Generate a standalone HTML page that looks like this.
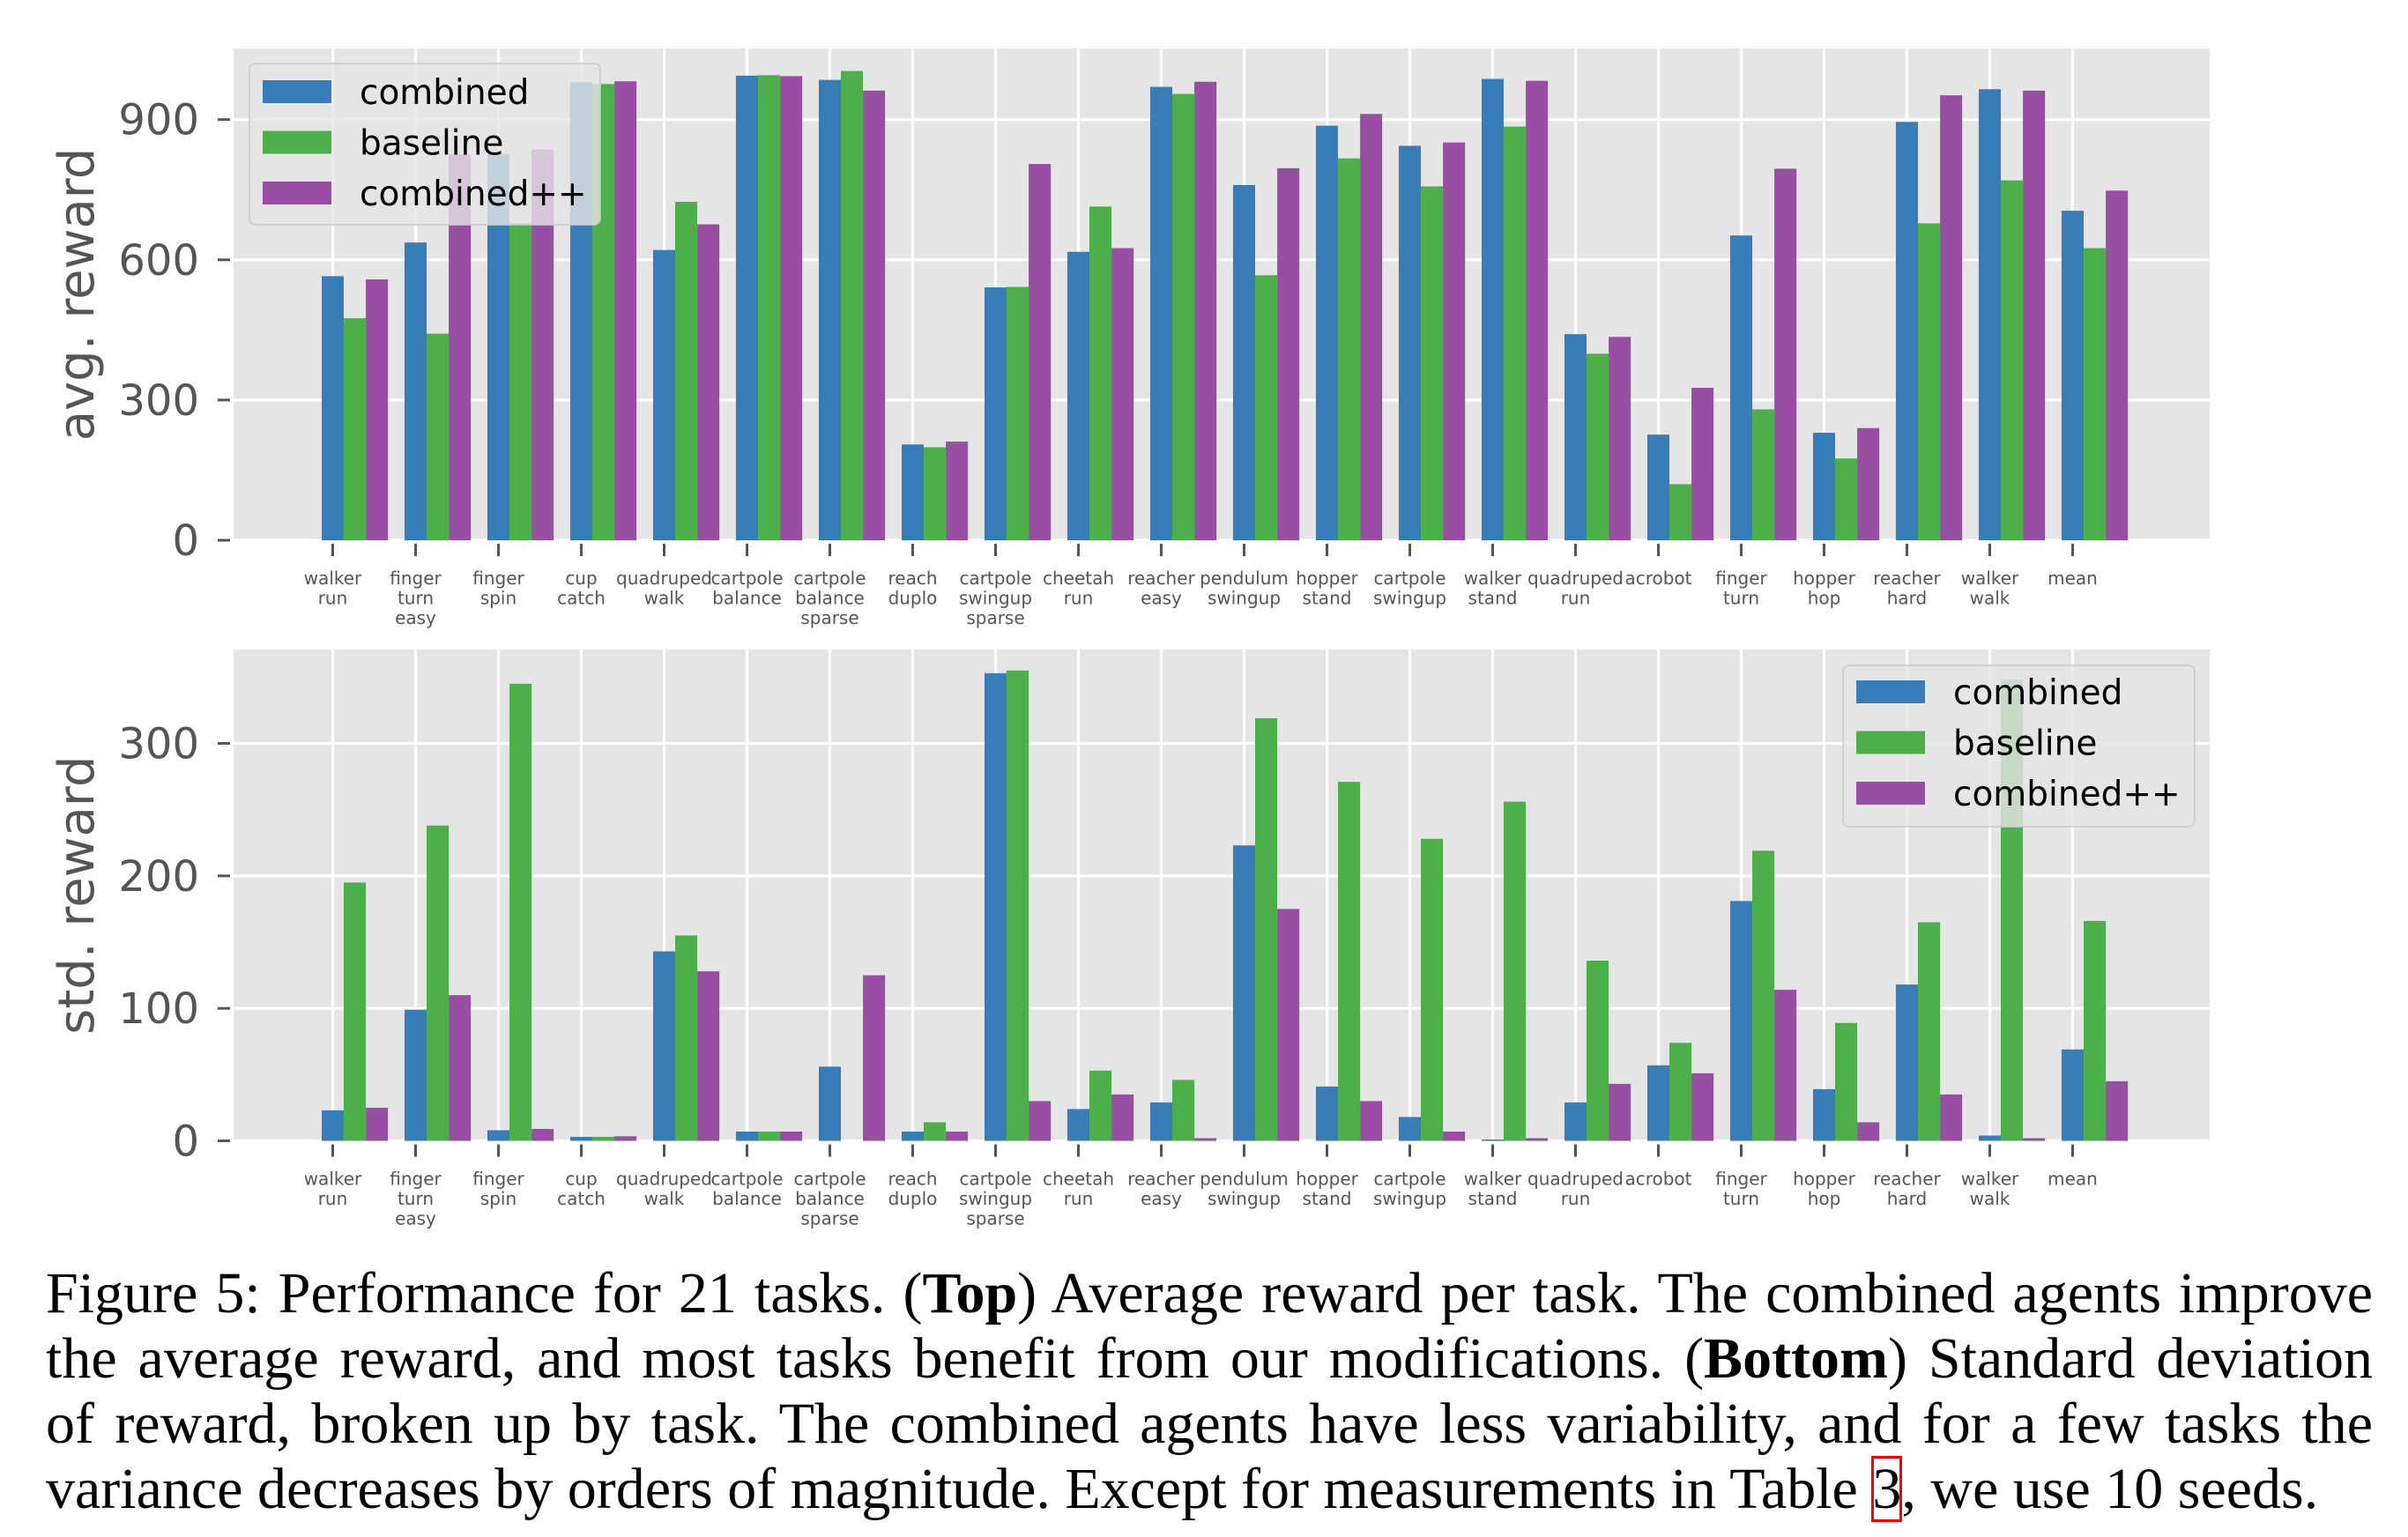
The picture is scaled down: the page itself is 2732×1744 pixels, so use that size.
<!DOCTYPE html>
<html><head><meta charset="utf-8">
<style>
html,body{margin:0;padding:0;background:#fff;}
body{width:2732px;height:1744px;position:relative;overflow:hidden;}
svg{position:absolute;left:0;top:0;}
.cap{position:absolute;left:52px;width:2640px;font-family:"Liberation Serif",serif;font-size:66px;line-height:74px;color:#000;text-align:justify;text-align-last:justify;white-space:nowrap;}
.cap.last{text-align-last:left;}
.ref{outline:3px solid #ff0000;outline-offset:-2px;}
</style></head>
<body>
<svg id="chart" width="2732" height="1400" viewBox="0 0 2732 1400" xmlns="http://www.w3.org/2000/svg" font-family="DejaVu Sans, sans-serif"></svg>

<div class="cap" style="top:1431px">Figure 5: Performance for 21 tasks. (<b>Top</b>) Average reward per task. The combined agents improve</div>
<div class="cap" style="top:1505px">the average reward, and most tasks benefit from our modifications. (<b>Bottom</b>) Standard deviation</div>
<div class="cap" style="top:1579px">of reward, broken up by task. The combined agents have less variability, and for a few tasks the</div>
<div class="cap last" style="top:1653px">variance decreases by orders of magnitude. Except for measurements in Table <span class="ref">3</span>, we use 10 seeds.</div>

<script>
const categories = ["walker\nrun","finger\nturn\neasy","finger\nspin","cup\ncatch","quadruped\nwalk","cartpole\nbalance","cartpole\nbalance\nsparse","reach\nduplo","cartpole\nswingup\nsparse","cheetah\nrun","reacher\neasy","pendulum\nswingup","hopper\nstand","cartpole\nswingup","walker\nstand","quadruped\nrun","acrobot","finger\nturn","hopper\nhop","reacher\nhard","walker\nwalk","mean"];
const seriesNames = ["combined","baseline","combined++"];
const avgCombined   = [565,637,826,980,621,994,985,205,541,617,970,760,887,844,987,441,226,652,230,895,965,705];
const avgBaseline   = [475,442,678,976,724,995,1004,199,542,714,955,567,817,757,885,399,120,280,175,678,770,625];
const avgCombinedPP = [558,826,836,982,676,993,962,211,805,625,981,796,912,851,983,435,326,795,240,952,962,748];
const stdCombined   = [23,99,8,3,143,7,56,7,353,24,29,223,41,18,1,29,57,181,39,118,4,69];
const stdBaseline   = [195,238,345,3,155,7,0,14,355,53,46,319,271,228,256,136,74,219,89,165,348,166];
const stdCombinedPP = [25,110,9,3.5,128,7,125,7,30,35,2,175,30,7,2,43,51,114,14,35,2,45];
const avgTicks = [0,300,600,900];
const stdTicks = [0,100,200,300];

const colors = ["#377eb8","#4daf4a","#984ea3"];
const NS = "http://www.w3.org/2000/svg";
const svg = document.getElementById("chart");
function mk(tag, attrs, parent){
  const e = document.createElementNS(NS, tag);
  for (const k in attrs) e.setAttribute(k, attrs[k]);
  (parent||svg).appendChild(e);
  return e;
}
const X0 = 377.5, STEP = 94.0, BW = STEP*0.8/3;
function xScale(i){ return X0 + i*STEP; }
const PL = 265, PR = 2507;

function drawPanel(cfg){
  const g = mk("g", {});
  
  
  const y = v => cfg.zero - v*cfg.ppu;
  const bg = mk("rect", {x:PL, y:cfg.top, width:PR-PL, height:cfg.zero-cfg.top, fill:"#e5e5e5"}, g);
  
  
  cfg.ticks.forEach(t => {
    const gl = mk("line", {x1:PL, x2:PR, y1:y(t), y2:y(t), stroke:"#fff", "stroke-width":3.2}, g);
    
    
  });
  categories.forEach((c,i) => {
    const gl = mk("line", {x1:xScale(i), x2:xScale(i), y1:cfg.top, y2:cfg.zero, stroke:"#fff", "stroke-width":3.2}, g);
    
    
  });
  cfg.series.forEach((arr, s) => {
    arr.forEach((v, i) => {
      const bx = xScale(i) - BW/2 + s*BW;
      const r = mk("rect", {x:bx, y:y(v), width:BW, height:cfg.zero - y(v), fill:colors[s]}, g);
      
      
    });
  });
  cfg.ticks.forEach(t => {
    const tm = mk("line", {x1:247, x2:261, y1:y(t), y2:y(t), stroke:"#555", "stroke-width":3}, g);
    
    
    const tl = mk("text", {x:226, y:y(t)+17, "text-anchor":"end", "font-size":48, fill:"#555"}, g);
    tl.textContent = String(t);
    
    
  });
  categories.forEach((c,i) => {
    const tm = mk("line", {x1:xScale(i), x2:xScale(i), y1:cfg.zero+4, y2:cfg.zero+18, stroke:"#555", "stroke-width":3}, g);
    
    
    const tl = mk("text", {x:xScale(i), "text-anchor":"middle", "font-size":20, fill:"#555"}, g);
    
    
    c.split("\n").forEach((ln, k) => {
      const ts = mk("tspan", {x:xScale(i), y:cfg.zero + 50 + k*22.5}, tl);
      ts.textContent = ln;
    });
  });
  const yl = mk("text", {transform:"translate(106," + ((cfg.top+cfg.zero)/2) + ") rotate(-90)", "text-anchor":"middle", "font-size":56, fill:"#555"}, g);
  yl.textContent = cfg.ylabel;
  
  
  const L = cfg.legend;
  const lg = mk("g", {}, g);
  
  
  mk("rect", {x:L.x, y:L.y, width:L.w, height:L.h, rx:7, fill:"rgba(229,229,229,0.8)", stroke:"rgba(204,204,204,0.8)", "stroke-width":2}, lg);
  seriesNames.forEach((n, s) => {
    const cy = L.row0 + s*57.5;
    const e = mk("g", {}, lg);
    
    
    mk("rect", {x:L.x+15, y:cy-13, width:78, height:26, fill:colors[s]}, e);
    const t = mk("text", {x:L.x+125, y:cy+14, "font-size":39, fill:"#000"}, e);
    t.textContent = n;
  });
}

drawPanel({name:"avg-reward-panel", top:55, zero:613, ppu:159.1/300, ticks:avgTicks, ylabel:"avg. reward",
  series:[avgCombined, avgBaseline, avgCombinedPP],
  legend:{x:283, y:72, w:398, h:183, row0:104}});
drawPanel({name:"std-reward-panel", top:737, zero:1294.5, ppu:1.5033, ticks:stdTicks, ylabel:"std. reward",
  series:[stdCombined, stdBaseline, stdCombinedPP],
  legend:{x:2091, y:755, w:399, h:183, row0:785}});
</script>
</body></html>
